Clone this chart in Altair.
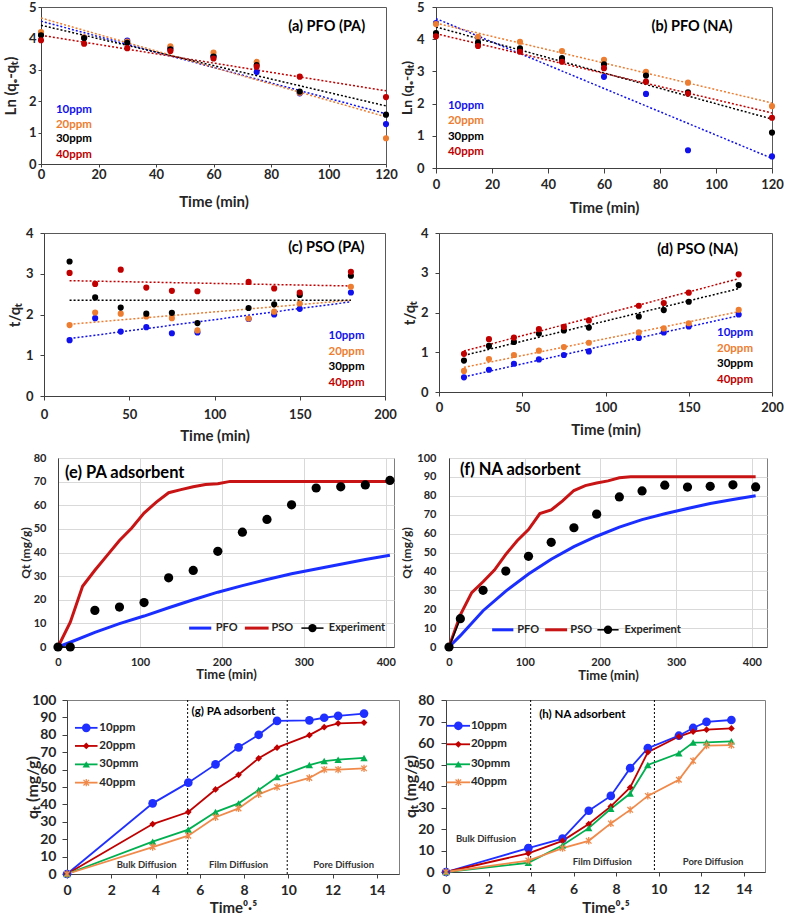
import altair as alt
import pandas as pd

FONT = "Lato"
INK = "#262626"

BLUE = "#1111EE"
ORANGE = "#ED7D31"
BLACK = "#000000"
RED = "#C00000"
GREEN = "#00B050"
ORANGE_G = "#F08A4B"
BLUE_G = "#1F2FFF"
RED_FIT = "#C81414"
BLUE_FIT = "#1A2EFF"

PPM = ["10ppm", "20ppm", "30ppm", "40ppm"]
PPM_G = ["10ppm", "20ppm", "30pmm", "40ppm"]
FIT = ["PFO", "PSO", "Experiment"]

# ---------------- (a) PFO (PA) ----------------
T_PFO = [0, 15, 30, 45, 60, 75, 90, 120]
A_10 = [4.17, 4.02, 3.93, 3.70, 3.44, 2.93, 2.25, 1.27]
A_20 = [4.20, 4.03, 3.90, 3.75, 3.55, 3.25, 2.27, 0.82]
A_30 = [4.10, 4.01, 3.86, 3.65, 3.42, 3.15, 2.31, 1.57]
A_40 = [3.94, 3.83, 3.69, 3.60, 3.36, 3.10, 2.78, 2.13]
TR_X_PFO = [0, 120]
A_TR_10 = [4.55, 1.60]
A_TR_20 = [4.65, 1.50]
A_TR_30 = [4.42, 1.85]
A_TR_40 = [4.10, 2.33]

# ---------------- (b) PFO (NA) ----------------
B_10 = [4.50, 4.05, 3.64, 3.32, 2.83, 2.30, 0.55, 0.36]
B_20 = [4.47, 4.07, 3.92, 3.63, 3.36, 2.99, 2.65, 1.92]
B_30 = [4.19, 3.90, 3.72, 3.41, 3.22, 2.87, 2.35, 1.10]
B_40 = [4.09, 3.79, 3.61, 3.30, 3.10, 2.68, 2.31, 1.56]
B_TR_10 = [4.64, 0.30]
B_TR_20 = [4.50, 2.02]
B_TR_30 = [4.38, 1.52]
B_TR_40 = [4.17, 1.71]

# ---------------- (c) PSO (PA) ----------------
T_PSO = [15, 30, 45, 60, 75, 90, 120, 135, 150, 180]
C_10 = [1.37, 1.91, 1.58, 1.69, 1.54, 1.56, 1.89, 2.00, 2.14, 2.54]
C_20 = [1.74, 2.05, 2.02, 1.95, 1.91, 1.61, 1.90, 2.07, 2.27, 2.68]
C_30 = [3.30, 2.42, 2.17, 2.02, 2.04, 1.79, 2.16, 2.25, 2.48, 2.95]
C_40 = [3.02, 2.75, 3.10, 2.66, 2.58, 2.57, 2.80, 2.64, 2.54, 3.05]
TR_X_PSO = [15, 180]
C_TR_10 = [1.41, 2.31]
C_TR_20 = [1.76, 2.35]
C_TR_30 = [2.35, 2.35]
C_TR_40 = [2.83, 2.70]

# ---------------- (d) PSO (NA) ----------------
D_10 = [0.37, 0.56, 0.71, 0.82, 0.93, 1.02, 1.36, 1.50, 1.65, 1.95]
D_20 = [0.53, 0.83, 0.93, 1.04, 1.13, 1.24, 1.50, 1.60, 1.73, 2.07]
D_30 = [0.79, 1.16, 1.26, 1.47, 1.55, 1.62, 1.90, 2.06, 2.27, 2.69]
D_40 = [0.96, 1.33, 1.37, 1.58, 1.64, 1.80, 2.17, 2.24, 2.50, 2.96]
D_TR_10 = [0.38, 1.92]
D_TR_20 = [0.62, 2.02]
D_TR_30 = [0.92, 2.60]
D_TR_40 = [1.03, 2.85]

# ---------------- (e) PA adsorbent ----------------
T_EXP = [0, 15, 45, 75, 105, 135, 165, 195, 225, 255, 285, 315, 345, 375, 405]
E_EXP = [0, 0, 15.5, 16.9, 18.8, 29.3, 32.4, 40.5, 48.6, 54.0, 60.2, 67.3, 67.8, 68.6, 70.5]
E_PFO = [0, 2.0, 6.2, 9.9, 13.1, 16.6, 20.0, 23.2, 26.0, 28.6, 31.0, 33.0, 35.0, 37.0, 38.8]
T_PSO_E = [0, 15, 30, 45, 60, 75, 90, 105, 120, 135, 150, 165, 180, 195, 210, 405]
E_PSO = [0, 10.5, 25.7, 32.5, 38.8, 45.1, 50.4, 56.7, 61.3, 65.3, 66.6, 67.8, 68.8, 69.1, 70.1, 70.1]

# ---------------- (f) NA adsorbent ----------------
F_EXP = [0, 15.0, 30.0, 40.2, 48.0, 55.4, 63.1, 70.3, 79.4, 82.6, 85.6, 84.6, 85.0, 85.8, 84.7]
F_PFO = [0, 6.0, 19.2, 29.6, 38.6, 46.4, 53.1, 58.6, 63.4, 67.4, 70.5, 73.3, 75.9, 78.0, 80.0]
T_PSO_F = [0, 15, 30, 45, 60, 75, 90, 105, 120, 135, 150, 165, 180, 195, 210, 225, 240, 405]
F_PSO = [0, 17.0, 28.8, 34.5, 40.7, 49.0, 56.2, 62.1, 70.6, 72.5, 77.3, 82.8, 85.4, 86.8, 87.9, 89.5, 90.1, 90.1]

# ---------------- (g)/(h) intraparticle diffusion ----------------
T_SQRT = [0, 3.87, 5.48, 6.71, 7.75, 8.66, 9.49, 10.95, 11.62, 12.25, 13.42]
G_10 = [0, 40.6, 52.5, 63.0, 72.8, 80.0, 88.0, 88.3, 89.8, 90.9, 92.2]
G_20 = [0, 28.7, 35.6, 48.6, 57.0, 66.5, 72.6, 79.8, 84.4, 86.6, 87.0]
G_30 = [0, 18.6, 25.5, 35.6, 40.6, 48.3, 55.7, 62.6, 64.9, 65.7, 66.7]
G_40 = [0, 15.5, 22.0, 32.6, 37.7, 45.8, 50.0, 55.2, 60.0, 60.0, 60.7]
H_10 = [0, 11.1, 15.5, 28.5, 35.4, 48.3, 57.6, 63.4, 67.0, 69.8, 70.7]
H_20 = [0, 8.7, 14.5, 22.3, 30.5, 39.3, 55.7, 63.0, 65.3, 66.2, 66.8]
H_30 = [0, 4.3, 12.4, 20.4, 29.4, 36.5, 49.8, 55.2, 60.2, 60.3, 60.8]
H_40 = [0, 5.3, 11.1, 14.5, 22.6, 28.9, 35.4, 42.9, 51.7, 58.8, 59.0]
G_ZONES = [5.45, 9.95]
H_ZONES = [3.98, 9.80]
ZONE_NAMES = ["Bulk Diffusion", "Film Diffusion", "Pore Diffusion"]

ASTERISK = "M0,-1L0,1M-0.75,-0.75L0.75,0.75M-0.75,0.75L0.75,-0.75"


def long_df(xs, cols, names, key):
    return pd.DataFrame([{"x": x, "y": v, key: n} for n, col in zip(names, cols) for x, v in zip(xs, col)])


def make_axis(title, values, lab=13, tit=15, tick=4, lpad=3, tpad=8, grid=False, ticks=True, ext=0, dom="#404040"):
    kw = dict(title=title, values=values, labelFont=FONT, titleFont=FONT, labelFontSize=lab,
              titleFontSize=tit, labelFontWeight="bold", titleFontWeight="bold", labelColor=INK,
              titleColor=INK, labelPadding=lpad, titlePadding=tpad, grid=grid, ticks=ticks,
              domainColor=dom, labelFlush=False, labelOverlap=False)
    if ticks:
        kw["tickSize"] = tick
        kw["tickColor"] = dom
    if grid:
        kw["gridColor"] = "#D9D9D9"
    if ext:
        kw["minExtent"] = ext
        kw["maxExtent"] = ext
    return alt.Axis(**kw)


class Enc:
    """Shared positional encodings (same scale + axis) for every layer of a panel."""

    def __init__(self, xdom, xaxis, ydom, yaxis):
        self.sx = alt.Scale(domain=xdom, nice=False, zero=False)
        self.sy = alt.Scale(domain=ydom, nice=False, zero=False)
        self.ax = xaxis
        self.ay = yaxis

    def x(self, field="x"):
        return alt.X(field + ":Q", scale=self.sx, axis=self.ax)

    def y(self, field="y"):
        return alt.Y(field + ":Q", scale=self.sy, axis=self.ay)


def layout_box(w, h, box):
    """Invisible rule whose bounds fix the panel's footprint in the concat layout."""
    left, right, top, bottom = box
    return alt.Chart(pd.DataFrame({"v": [0]})).mark_rule(opacity=0, strokeWidth=0).encode(
        x=alt.value(-left), x2=alt.value(w + right), y=alt.value(-top), y2=alt.value(h + bottom))


def spacer():
    return alt.Chart(pd.DataFrame({"v": [0]})).mark_rule(opacity=0, strokeWidth=0).encode(
        x=alt.value(0), x2=alt.value(1), y=alt.value(0)).properties(
        width=1, height=1, view=alt.ViewBackground(strokeOpacity=0))


def text_layer(df, enc, size, align, color=INK):
    return alt.Chart(df).mark_text(font=FONT, fontSize=size, fontWeight="bold", align=align,
                                   baseline="middle", color=color).encode(x=enc.x(), y=enc.y(), text="t:N")


def kinetic(xs, cols, trx, trcols, xdom, xvals, ytitle, w, h, tag, tag_xy, tag_align,
            leg_x, leg_ys, leg_align, xa, ya, box):
    enc = Enc(xdom, make_axis("Time (min)", xvals, **xa),
              [0, ytitle[1]], make_axis(ytitle[0], list(range(0, ytitle[1] + 1)), **ya))
    pts = long_df(xs, cols, PPM, "ppm")
    trd = long_df(trx, trcols, PPM, "ppm")
    color = alt.Color("ppm:N", scale=alt.Scale(domain=PPM, range=[BLUE, ORANGE, BLACK, RED]), legend=None)
    trend = alt.Chart(trd).mark_line(strokeDash=[2, 2], strokeWidth=1.5).encode(
        x=enc.x(), y=enc.y(), color=color, detail="ppm:N")
    dots = alt.Chart(pts).mark_circle(size=38, opacity=1).encode(x=enc.x(), y=enc.y(), color=color)
    leg = pd.DataFrame({"ppm": PPM, "x": [leg_x] * 4, "y": leg_ys})
    legend = alt.Chart(leg).mark_text(font=FONT, fontSize=11.5, fontWeight="bold", align=leg_align,
                                      baseline="middle").encode(
        x=enc.x(), y=enc.y(), text="ppm:N", color=color)
    tagc = text_layer(pd.DataFrame({"t": [tag], "x": [tag_xy[0]], "y": [tag_xy[1]]}), enc, 14.5, tag_align, BLACK)
    return alt.layer(trend, dots, legend, tagc, layout_box(w, h, box)).properties(
        width=w, height=h, view=alt.ViewBackground(stroke="#595959", strokeWidth=1))


def fit_panel(exp, pfo, t_pso, pso, xmax, ymax, w, h, tag, tag_xy, leg_y, leg_items, xa, ya, box):
    enc = Enc([0, xmax], make_axis("Time (min)", [0, 100, 200, 300, 400], grid=True, ticks=False, **xa),
              [0, ymax], make_axis("Qt (mg/g)", list(range(0, ymax + 1, 10)), grid=True, ticks=False, **ya))
    color = alt.Color("model:N", scale=alt.Scale(domain=FIT, range=[BLUE_FIT, RED_FIT, BLACK]), legend=None)
    models = pd.concat([long_df(T_EXP, [pfo], ["PFO"], "model"), long_df(t_pso, [pso], ["PSO"], "model")])
    expd = long_df(T_EXP, [exp], ["Experiment"], "model")
    mlines = alt.Chart(models).mark_line(strokeWidth=3).encode(x=enc.x(), y=enc.y(), color=color, detail="model:N")
    eline = alt.Chart(expd.head(2)).mark_line(strokeWidth=1.5, color=BLACK).encode(x=enc.x(), y=enc.y())
    edots = alt.Chart(expd).mark_circle(size=85, opacity=1, color=BLACK).encode(x=enc.x(), y=enc.y())
    lg = pd.DataFrame({"model": FIT, "x": [it[0] for it in leg_items], "x2": [it[1] for it in leg_items],
                       "xt": [it[2] for it in leg_items], "y": [leg_y] * 3})
    lg["xm"] = (lg["x"] + lg["x2"]) / 2
    lrule_m = alt.Chart(lg.head(2)).mark_rule(strokeWidth=3).encode(
        x=enc.x(), x2=alt.X2("x2:Q"), y=enc.y(), color=color)
    lrule_e = alt.Chart(lg.tail(1)).mark_rule(strokeWidth=1.5, color=BLACK).encode(
        x=enc.x(), x2=alt.X2("x2:Q"), y=enc.y())
    ldot = alt.Chart(lg.tail(1)).mark_circle(size=70, opacity=1, color=BLACK).encode(x=enc.x("xm"), y=enc.y())
    ltext = alt.Chart(lg).mark_text(font=FONT, fontSize=11, fontWeight="bold", align="left",
                                    baseline="middle", color=INK, dx=2).encode(
        x=enc.x("xt"), y=enc.y(), text="model:N")
    tagc = text_layer(pd.DataFrame({"t": [tag], "x": [tag_xy[0]], "y": [tag_xy[1]]}), enc, 16.5, "left", BLACK)
    return alt.layer(mlines, eline, edots, lrule_m, lrule_e, ldot, ltext, tagc, layout_box(w, h, box)).properties(
        width=w, height=h, view=alt.ViewBackground(stroke="#7F7F7F", strokeWidth=1))


def ipd_panel(cols, zones, zone_pos, ymax, w, h, tag, tag_xy, leg, xa, ya, box):
    enc = Enc([0, 15], make_axis("Time\u2070\u00b7\u2075", list(range(0, 15, 2)), **xa),
              [0, ymax], make_axis("q\u209c (mg/g)", list(range(0, ymax + 1, 10)), **ya))
    colors = [BLUE_G, RED, GREEN, ORANGE_G]
    color = alt.Color("ppmg:N", scale=alt.Scale(domain=PPM_G, range=colors), legend=None)
    pts = long_df(T_SQRT, cols, PPM_G, "ppmg")
    x1, x2, xm, xt, ys = leg
    lgl = pd.DataFrame({"ppmg": PPM_G, "x": [x1] * 4, "x2": [x2] * 4, "y": ys})
    lgp = pd.DataFrame({"ppmg": PPM_G, "x": [xm] * 4, "y": ys})
    lgt = pd.DataFrame({"t": PPM_G, "x": [xt] * 4, "y": ys})
    zl = alt.Chart(pd.DataFrame({"x": zones})).mark_rule(strokeDash=[2, 2], strokeWidth=1, color=BLACK).encode(
        x=enc.x())
    lines = alt.Chart(pts).mark_line(strokeWidth=1.8).encode(x=enc.x(), y=enc.y(), color=color, detail="ppmg:N")
    lrules = alt.Chart(lgl).mark_rule(strokeWidth=1.8).encode(x=enc.x(), x2=alt.X2("x2:Q"), y=enc.y(), color=color)
    mk = pd.concat([pts, lgp])
    styles = [("circle", 75, True), ("diamond", 45, True), ("triangle-up", 55, True), (ASTERISK, 55, False)]
    marks = []
    for name, (shape, size, filled) in zip(PPM_G, styles):
        sub = mk[mk["ppmg"] == name]
        if filled:
            m = alt.Chart(sub).mark_point(shape=shape, size=size, filled=True, opacity=1, strokeWidth=0.8)
        else:
            m = alt.Chart(sub).mark_point(shape=shape, size=size, filled=False, opacity=1, strokeWidth=1.3)
        marks.append(m.encode(x=enc.x(), y=enc.y(), color=color))
    ltext = alt.Chart(lgt).mark_text(font=FONT, fontSize=11.5, fontWeight="bold", align="left",
                                     baseline="middle", color=INK).encode(x=enc.x(), y=enc.y(), text="t:N")
    zdf = pd.DataFrame({"t": ZONE_NAMES, "x": [p[0] for p in zone_pos], "y": [p[1] for p in zone_pos]})
    ztext = text_layer(zdf, enc, 9.5, "center", "#333333")
    tagc = text_layer(pd.DataFrame({"t": [tag], "x": [tag_xy[0]], "y": [tag_xy[1]]}), enc, 11.5, "left", BLACK)
    return alt.layer(zl, lines, lrules, *marks, ltext, ztext, tagc, layout_box(w, h, box)).properties(
        width=w, height=h, view=alt.ViewBackground(stroke="#7F7F7F", strokeWidth=1))


# layout boxes: (left, right, top, bottom) pixels around each plot area
pa = kinetic(T_PFO, [A_10, A_20, A_30, A_40], TR_X_PFO, [A_TR_10, A_TR_20, A_TR_30, A_TR_40],
             [0, 120], list(range(0, 121, 20)), ("Ln (q\u2091-q\u209c)", 5), 345, 157,
             "(a) PFO (PA)", (86, 4.36), "left", 5.2, [1.72, 1.24, 0.80, 0.29], "left",
             dict(tick=3, lpad=1, tpad=13.5), dict(tick=3, lpad=2, tpad=9.5, ext=13),
             (39, 12, 5, 57))
pb = kinetic(T_PFO, [B_10, B_20, B_30, B_40], TR_X_PFO, [B_TR_10, B_TR_20, B_TR_30, B_TR_40],
             [0, 120], list(range(0, 121, 20)), ("Ln (q\u2091-q\u209c)", 5), 336, 161,
             "(b) PFO (NA)", (77, 4.38), "left", 4.25, [1.93, 1.46, 0.96, 0.50], "left",
             dict(tick=5, lpad=5, tpad=9.5), dict(tick=4, lpad=8, tit=14, tpad=2, ext=20),
             (36, 0, 5, 0))
pc = kinetic(T_PSO, [C_10, C_20, C_30, C_40], TR_X_PSO, [C_TR_10, C_TR_20, C_TR_30, C_TR_40],
             [0, 200], list(range(0, 201, 50)), ("t/q\u209c", 4), 341, 163,
             "(c) PSO (PA)", (188, 3.63), "right", 188, [1.47, 1.08, 0.71, 0.32], "right",
             dict(tick=4, lpad=8, tpad=7.5), dict(tick=4, lpad=7, tpad=2.5, ext=19),
             (42, 12, 10, 50))
pd_ = kinetic(T_PSO, [D_10, D_20, D_30, D_40], TR_X_PSO, [D_TR_10, D_TR_20, D_TR_30, D_TR_40],
              [0, 200], list(range(0, 201, 50)), ("t/q\u209c", 4), 333, 159,
              "(d) PSO (NA)", (179.5, 3.57), "right", 188.6, [1.48, 1.08, 0.70, 0.30], "right",
              dict(tick=4, lpad=5, tpad=8.5), dict(tick=4, lpad=7, tpad=2.5, ext=19),
              (40, 0, 10, 0))
pe = fit_panel(E_EXP, E_PFO, T_PSO_E, E_PSO, 410, 80, 336, 189, "(e) PA adsorbent", (8.6, 73.6), 8.0,
               [(160, 187, 190), (228, 257, 258), (297, 324, 328)],
               dict(lab=11, tit=13, lpad=9, tpad=1.5), dict(lab=11, tit=12, lpad=12, tpad=1, ext=25),
               (56, 4, 10, 41))
pf = fit_panel(F_EXP, F_PFO, T_PSO_F, F_PSO, 420, 100, 318, 189, "(f) NA adsorbent", (14.6, 93.6), 9.1,
               [(57, 85, 87.4), (127, 156, 157.6), (196, 224, 229)],
               dict(lab=11, tit=13, lpad=9.5, tpad=2), dict(lab=11, tit=12, lpad=13, tpad=3, ext=33),
               (49, 0, 10, 0))
pg = ipd_panel([G_10, G_20, G_30, G_40], G_ZONES, [(3.6, 5.2), (7.75, 5.2), (12.5, 5.2)], 100, 332, 174,
               "(g) PA adsorbent", (5.63, 93), (0.36, 1.38, 0.87, 1.46, [84, 73.6, 63, 52.5]),
               dict(lab=14, tit=15, tick=4, lpad=5, tpad=3), dict(lab=14, tit=16, tick=5, lpad=6, tpad=0.5, ext=26),
               (65, 1, 10, 0))
ph = ipd_panel([H_10, H_20, H_30, H_40], H_ZONES, [(1.88, 15.5), (7.35, 4.5), (12.56, 4.5)], 80, 319, 172,
               "(h) NA adsorbent", (4.38, 73), (0.03, 1.13, 0.58, 1.17, [68, 59.4, 50.1, 41.7]),
               dict(lab=14, tit=15, tick=4, lpad=6, tpad=4), dict(lab=14, tit=16, tick=5, lpad=7, tpad=0.5, ext=27.5),
               (44, 0, 10, 0))


def row(left, right):
    return alt.hconcat(spacer(), left, right, spacing=0).resolve_scale(color="independent")


chart = alt.vconcat(
    row(pa, pb), row(pc, pd_), row(pe, pf), row(pg, ph), spacing=0
).resolve_scale(color="independent").properties(
    padding={"left": 0, "top": 0, "right": 0, "bottom": 0}
).configure(font=FONT, background="white")

chart.save("out.html", embed_options={"renderer": "svg", "actions": False})
